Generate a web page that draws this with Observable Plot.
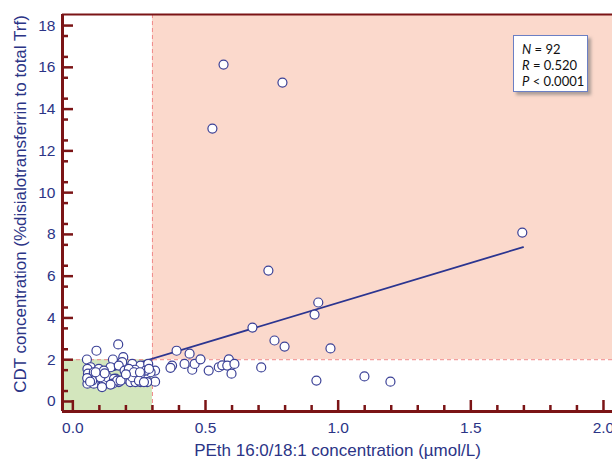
<!DOCTYPE html>
<html><head><meta charset="utf-8">
<script src="https://cdn.jsdelivr.net/npm/d3@7"></script>
<script src="https://cdn.jsdelivr.net/npm/@observablehq/plot@0.6"></script>
<style>
body{margin:0;background:#fff;}
#wrap{position:relative;width:612px;height:460px;}
#wrap svg text{font-family:"Liberation Sans",Arial,sans-serif;}
#stats{position:absolute;left:513px;top:35px;width:75px;height:57px;background:#fff;border:1px solid #6b7fc4;box-shadow:3px 3px 3px rgba(110,110,110,0.55);font-family:Lato,"Open Sans",sans-serif;font-size:13px;color:#111;box-sizing:border-box;padding:5px 0 0 8px;line-height:16px;}
</style></head>
<body><div id="wrap"><div id="stats"><div><i>N</i> = 92</div><div><i>R</i> = 0.520</div><div><i>P</i> &lt; 0.0001</div></div></div>
<script>
// PEth 16:0/18:1 (µmol/L)
const peth = [
0.568,0.790,0.526,1.694,0.737,0.677,0.925,0.911,0.760,0.798,0.971,0.918,1.099,1.197,0.710,
0.391,0.440,0.374,0.368,0.421,0.450,0.459,0.481,0.512,0.550,0.563,0.588,0.582,0.609,0.598,0.310,0.310,
0.171,0.089,0.053,0.151,0.190,0.186,0.067,0.142,0.173,0.195,0.224,0.255,0.284,0.234,
0.055,0.057,0.060,0.055,0.079,0.104,0.086,0.123,0.161,0.079,0.111,0.136,0.173,0.199,
0.217,0.236,0.255,0.274,0.280,0.293,0.274,0.255,0.224,0.098,0.211,0.117,0.130,0.155,
0.150,0.167,0.180,0.249,0.268,0.287,0.117,0.142,0.073,0.104,0.110,0.086,0.230,0.253,
0.054,0.065,0.120,0.200];
// CDT (%disialotransferrin)
const cdt = [
16.13,15.27,13.07,8.09,6.27,3.54,4.74,4.16,2.92,2.63,2.54,1.00,1.20,0.95,1.63,
2.43,2.29,1.72,1.61,1.80,1.52,1.80,2.02,1.48,1.64,1.73,2.02,1.72,1.80,1.33,1.48,0.95,
2.73,2.43,2.01,2.01,2.12,1.88,1.64,1.64,1.72,1.48,1.80,1.72,1.80,1.52,
1.56,1.33,1.09,0.85,1.40,1.24,1.09,1.24,1.09,0.85,0.80,0.93,0.93,1.09,
0.93,0.93,0.93,1.16,0.93,1.40,1.48,1.33,1.16,1.56,1.56,0.93,1.16,1.08,
0.85,1.00,1.00,1.00,0.93,1.56,1.48,0.81,1.00,1.16,0.69,1.40,1.40,1.40,
1.12,0.95,1.35,1.30];
const regX = [0.067, 1.697];
const regY = [1.16, 7.39];
const cutX = 0.3, cutY = 2;
const xDomain = [-0.039, 2.034];
const yDomain = [-0.48, 18.53];
const xMajor = [0, 0.5, 1.0, 1.5, 2.0];
const xMinor = d3.range(1, 21).map(i => i / 10).filter(v => Math.abs(v * 2 - Math.round(v * 2)) > 1e-9);
const yMajor = [0, 2, 4, 6, 8, 10, 12, 14, 16, 18];
const yMinor = d3.range(1, 37, 2).map(i => i / 2);
const xTitle = "PEth 16:0/18:1 concentration (µmol/L)";
const yTitle = "CDT concentration (%disialotransferrin to total Trf)";

const pts = peth.map((x, i) => ({x, y: cdt[i]}));
const reg = regX.map((x, i) => ({x, y: regY[i]}));

const W = 612, H = 460, mL = 62, mT = 14, mB = 49, mR = 0;
const fw = W - mL - mR, fh = H - mT - mB;
const axisCol = "#7b1416", textCol = "#2b3486";

const chart = Plot.plot({
  width: W, height: H,
  marginLeft: mL, marginTop: mT, marginBottom: mB, marginRight: mR,
  style: {fontFamily: "'Liberation Sans', Arial, sans-serif", fontSize: "15px", color: textCol, background: "transparent"},
  x: {domain: xDomain, label: null},
  y: {domain: yDomain, label: null},
  marks: [
    Plot.rect([{x1: xDomain[0], x2: cutX, y1: yDomain[0], y2: cutY}], {x1: "x1", x2: "x2", y1: "y1", y2: "y2", fill: "#d3e6bd"}),
    Plot.rect([{x1: cutX, x2: xDomain[1], y1: cutY, y2: yDomain[1]}], {x1: "x1", x2: "x2", y1: "y1", y2: "y2", fill: "#fbd9cc"}),
    Plot.ruleX([cutX], {stroke: "#f08a8a", strokeDasharray: "4,3", strokeWidth: 1}),
    Plot.ruleY([cutY], {stroke: "#f08a8a", strokeDasharray: "4,3", strokeWidth: 1}),
    Plot.tickY(yMajor, {y: d => d, stroke: axisCol, strokeWidth: 2.5, insetRight: fw - 11}),
    Plot.tickY(yMinor, {y: d => d, stroke: axisCol, strokeWidth: 2.5, insetRight: fw - 6}),
    Plot.tickX(xMajor, {x: d => d, stroke: axisCol, strokeWidth: 2.5, insetTop: fh - 11}),
    Plot.tickX(xMinor, {x: d => d, stroke: axisCol, strokeWidth: 2.5, insetTop: fh - 6}),
    Plot.ruleX([xDomain[0]], {stroke: axisCol, strokeWidth: 3}),
    Plot.ruleY([yDomain[0]], {stroke: axisCol, strokeWidth: 3}),
    Plot.ruleY([yDomain[1]], {stroke: axisCol, strokeWidth: 2}),
    Plot.line(reg, {x: "x", y: "y", stroke: "#2b3590", strokeWidth: 1.8}),
    Plot.dot(pts, {x: "x", y: "y", r: 4.5, fill: "white", stroke: "#3a4096", strokeWidth: 1.2}),
    Plot.axisX({ticks: xMajor, tickFormat: d3.format(".1f"), tickSize: 0, tickPadding: 10, fill: textCol, fontSize: 15.5}),
    Plot.axisY({ticks: yMajor, tickFormat: d => String(d), tickSize: 0, tickPadding: 7, fill: textCol, fontSize: 15.5}),
    Plot.text([xTitle], {text: d => d, frameAnchor: "bottom", dy: 39, fill: textCol, fontSize: 17, textAnchor: "middle", lineAnchor: "middle"}),
    Plot.text([yTitle], {text: d => d, frameAnchor: "left", rotate: -90, dx: -42, dy: -9, fill: textCol, fontSize: 17, textAnchor: "middle", lineAnchor: "middle"})
  ]
});
document.getElementById("wrap").prepend(chart);
</script>
</body></html>
